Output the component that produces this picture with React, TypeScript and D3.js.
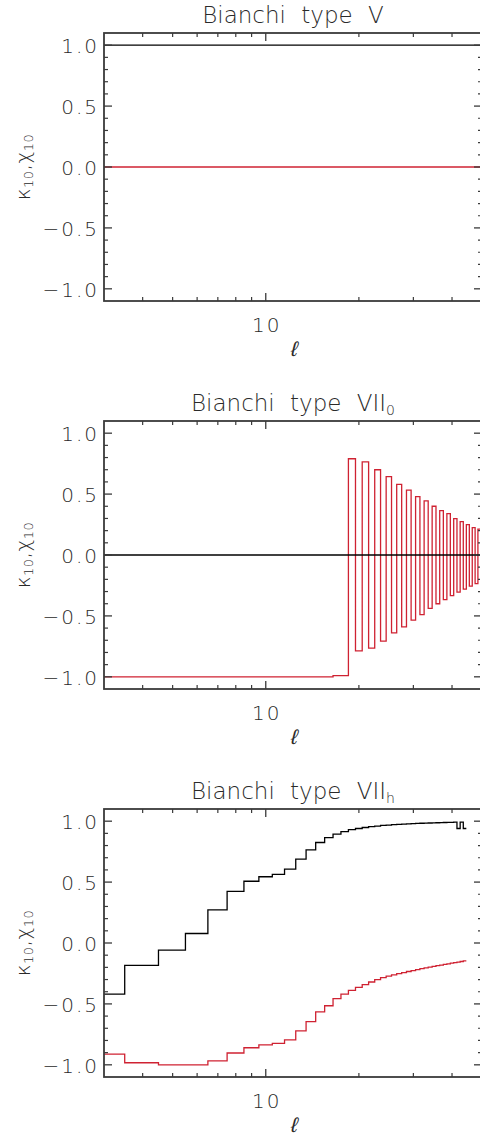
import React from "react";
import * as d3 from "d3";

// ---------- data ----------
const ELL_FULL = d3.range(3, 51); // multipoles l = 3..50
const ELL_VIIH = d3.range(3, 45); // multipoles l = 3..44

// Bianchi type V
const typeVKappa = [
  1, 1, 1, 1, 1, 1, 1, 1, 1, 1, 1, 1, 1, 1, 1, 1, 1, 1, 1, 1, 1, 1, 1, 1,
  1, 1, 1, 1, 1, 1, 1, 1, 1, 1, 1, 1, 1, 1, 1, 1, 1, 1, 1, 1, 1, 1, 1, 1,
];
const typeVChi = [
  0, 0, 0, 0, 0, 0, 0, 0, 0, 0, 0, 0, 0, 0, 0, 0, 0, 0, 0, 0, 0, 0, 0, 0,
  0, 0, 0, 0, 0, 0, 0, 0, 0, 0, 0, 0, 0, 0, 0, 0, 0, 0, 0, 0, 0, 0, 0, 0,
];

// Bianchi type VII_0
const typeVII0Kappa = [
  0, 0, 0, 0, 0, 0, 0, 0, 0, 0, 0, 0, 0, 0, 0, 0, 0, 0, 0, 0, 0, 0, 0, 0,
  0, 0, 0, 0, 0, 0, 0, 0, 0, 0, 0, 0, 0, 0, 0, 0, 0, 0, 0, 0, 0, 0, 0, 0,
];
const typeVII0Chi = [
  -1, -1, -1, -1, -1, -1, -1, -1, -1, -1, -1, -1, -1, -1, -0.99, -0.99,
  0.79, -0.787, 0.765, -0.765, 0.7, -0.707, 0.643, -0.64, 0.58, -0.59, 0.532,
  -0.535, 0.48, -0.49, 0.445, -0.438, 0.4, -0.4, 0.364, -0.367, 0.34, -0.334,
  0.298, -0.305, 0.274, -0.28, 0.25, -0.255, 0.225, -0.235, 0.212, -0.22,
];

// Bianchi type VII_h
const typeVIIhKappa = [
  -0.42, -0.184, -0.058, 0.078, 0.272, 0.424, 0.507, 0.544, 0.564, 0.606,
  0.688, 0.765, 0.825, 0.865, 0.893, 0.915, 0.93, 0.94, 0.948, 0.955, 0.96,
  0.965, 0.968, 0.971, 0.974, 0.976, 0.978, 0.98, 0.982, 0.983, 0.984, 0.985,
  0.986, 0.987, 0.988, 0.989, 0.99, 0.991, 0.993, 0.94, 0.993, 0.94,
];
const typeVIIhChi = [
  -0.912, -0.983, -1.0, -1.0, -0.967, -0.903, -0.86, -0.837, -0.824, -0.796,
  -0.722, -0.645, -0.566, -0.515, -0.457, -0.419, -0.389, -0.364, -0.342,
  -0.32, -0.301, -0.285, -0.272, -0.262, -0.252, -0.243, -0.234, -0.226,
  -0.218, -0.211, -0.204, -0.198, -0.192, -0.186, -0.181, -0.176, -0.171,
  -0.166, -0.161, -0.157, -0.152, -0.147,
];

const X_MINOR_TICKS = [4, 5, 6, 7, 8, 9, 20, 30, 40];
const X_MAJOR_TICKS = [10];
const X_TICK_LABELS = ["10"];
const Y_MAJOR_TICKS = [-1, -0.5, 0, 0.5, 1];
const Y_TICK_LABELS = ["\u22121.0", "\u22120.5", "0.0", "0.5", "1.0"];
const Y_MINOR_TICKS = [
  -0.9, -0.8, -0.7, -0.6, -0.4, -0.3, -0.2, -0.1, 0.1, 0.2, 0.3, 0.4, 0.6,
  0.7, 0.8, 0.9,
];

const TITLES = ["Bianchi type V", "Bianchi type VII", "Bianchi type VII"];
const TITLE_SUBS = ["", "0", "h"];

// ---------- layout ----------
const W = 480;
const H = 1136;
const LEFT = 104;
const RIGHT = 482;
const PANEL_TOPS = [33, 421, 809];
const PLOT_H = 268;
const RED = "#cf2232";
const AXIS = "#3a3a3a";
const TEXT = "#2a2a2a";
const FONT = "'DejaVu Sans', sans-serif";

type Series = { ell: number[]; v: number[]; color: string };

const PANELS: { series: Series[] }[] = [
  {
    series: [
      { ell: ELL_FULL, v: typeVChi, color: RED },
      { ell: ELL_FULL, v: typeVKappa, color: "#000" },
    ],
  },
  {
    series: [
      { ell: ELL_FULL, v: typeVII0Chi, color: RED },
      { ell: ELL_FULL, v: typeVII0Kappa, color: "#000" },
    ],
  },
  {
    series: [
      { ell: ELL_VIIH, v: typeVIIhChi, color: RED },
      { ell: ELL_VIIH, v: typeVIIhKappa, color: "#000" },
    ],
  },
];

const x = d3.scaleLog().domain([3, 50]).range([LEFT, RIGHT]);

function stepPoints(s: Series): [number, number][] {
  const pts: [number, number][] = [];
  s.ell.forEach((l, i) => {
    pts.push([l - 0.5, s.v[i]]);
    pts.push([l + 0.5, s.v[i]]);
  });
  return pts;
}

function Panel({ idx }: { idx: number }) {
  const top = PANEL_TOPS[idx];
  const bottom = top + PLOT_H;
  const y = d3.scaleLinear().domain([-1.1, 1.1]).range([bottom, top]);
  const line = d3
    .line<[number, number]>()
    .x((d) => x(d[0]))
    .y((d) => y(d[1]));
  const cx = (LEFT + RIGHT) / 2;
  const cy = (top + bottom) / 2;
  const clipId = `clip${idx}`;
  return (
    <g>
      <defs>
        <clipPath id={clipId}>
          <rect x={LEFT} y={top} width={RIGHT - LEFT} height={PLOT_H} />
        </clipPath>
      </defs>
      {/* title */}
      <text
        x={cx}
        y={top - 10}
        textAnchor="middle"
        fontFamily={FONT}
        fontWeight={200}
        fontSize={23}
        fill={TEXT}
        style={{ wordSpacing: "8px" }}
      >
        {TITLES[idx]}
        {TITLE_SUBS[idx] && (
          <tspan fontSize={14} dy={4}>
            {TITLE_SUBS[idx]}
          </tspan>
        )}
      </text>
      {/* data */}
      <g clipPath={`url(#${clipId})`}>
        {PANELS[idx].series.map((s, i) => (
          <path
            key={i}
            d={line(stepPoints(s)) || ""}
            fill="none"
            stroke={s.color}
            strokeWidth={1.3}
          />
        ))}
      </g>
      {/* frame */}
      <rect
        x={LEFT}
        y={top}
        width={RIGHT - LEFT}
        height={PLOT_H}
        fill="none"
        stroke={AXIS}
        strokeWidth={1.8}
      />
      {/* y ticks */}
      {Y_MAJOR_TICKS.map((t) => (
        <g key={"ym" + t}>
          <line x1={LEFT} x2={LEFT + 8} y1={y(t)} y2={y(t)} stroke={AXIS} strokeWidth={1.3} />
          <line x1={RIGHT} x2={RIGHT - 8} y1={y(t)} y2={y(t)} stroke={AXIS} strokeWidth={1.3} />
        </g>
      ))}
      {Y_MINOR_TICKS.map((t) => (
        <g key={"yn" + t}>
          <line x1={LEFT} x2={LEFT + 4} y1={y(t)} y2={y(t)} stroke={AXIS} strokeWidth={1.2} />
          <line x1={RIGHT} x2={RIGHT - 4} y1={y(t)} y2={y(t)} stroke={AXIS} strokeWidth={1.2} />
        </g>
      ))}
      {/* x ticks */}
      {X_MAJOR_TICKS.map((t) => (
        <g key={"xm" + t}>
          <line x1={x(t)} x2={x(t)} y1={bottom} y2={bottom - 8} stroke={AXIS} strokeWidth={1.3} />
          <line x1={x(t)} x2={x(t)} y1={top} y2={top + 8} stroke={AXIS} strokeWidth={1.3} />
        </g>
      ))}
      {X_MINOR_TICKS.map((t) => (
        <g key={"xn" + t}>
          <line x1={x(t)} x2={x(t)} y1={bottom} y2={bottom - 4} stroke={AXIS} strokeWidth={1.2} />
          <line x1={x(t)} x2={x(t)} y1={top} y2={top + 4} stroke={AXIS} strokeWidth={1.2} />
        </g>
      ))}
      {/* y tick labels */}
      {Y_MAJOR_TICKS.map((t, i) => (
        <text
          key={"yl" + t}
          x={99}
          y={y(t) + 8}
          textAnchor="end"
          fontFamily={FONT}
          fontWeight={200}
          fontSize={20}
          letterSpacing={2}
          fill={TEXT}
        >
          {Y_TICK_LABELS[i]}
        </text>
      ))}
      {/* x tick labels */}
      {X_MAJOR_TICKS.map((t, i) => (
        <text
          key={"xl" + t}
          x={x(t) + 1}
          y={bottom + 31}
          textAnchor="middle"
          fontFamily={FONT}
          fontWeight={200}
          fontSize={20}
          letterSpacing={2}
          fill={TEXT}
        >
          {X_TICK_LABELS[i]}
        </text>
      ))}
      {/* x axis title */}
      <text
        transform={`translate(${cx},${bottom + 55}) skewX(-14)`}
        textAnchor="middle"
        fontFamily={FONT}
        fontWeight={200}
        fontSize={21}
        fill={TEXT}
      >
        {"\u2113"}
      </text>
      {/* y axis title */}
      <text
        transform={`translate(30,${cy}) rotate(-90)`}
        textAnchor="middle"
        fontFamily={FONT}
        fontWeight={200}
        fontSize={20}
        letterSpacing={0.5}
        fill={TEXT}
      >
        {"\u03ba"}
        <tspan fontSize={13} dy={3}>
          10
        </tspan>
        <tspan dy={-3}>,</tspan>
        <tspan>{"\u03c7"}</tspan>
        <tspan fontSize={13} dy={3}>
          10
        </tspan>
      </text>
    </g>
  );
}

export default function App() {
  return (
    <svg
      width={W}
      height={H}
      viewBox={`0 0 ${W} ${H}`}
      style={{ position: "absolute", left: 0, top: 0, background: "#fff" }}
    >
      <rect x={0} y={0} width={W} height={H} fill="#fff" />
      {PANELS.map((_, i) => (
        <Panel key={i} idx={i} />
      ))}
    </svg>
  );
}
